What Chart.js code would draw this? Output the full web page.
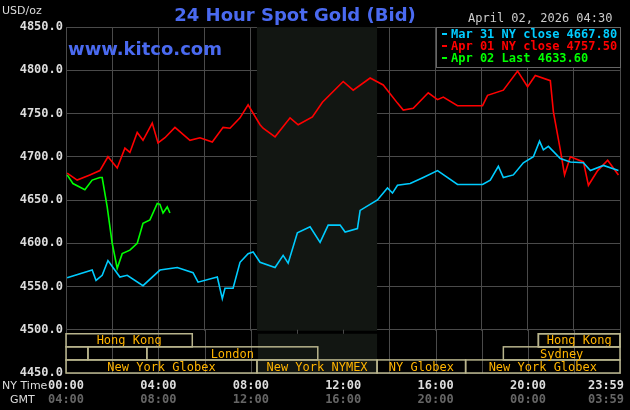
<!DOCTYPE html>
<html><head><meta charset="utf-8">
<script src="https://cdn.jsdelivr.net/npm/chart.js@4"></script>
<style>html,body{margin:0;background:#000;}#w{width:630px;height:410px;}</style>
</head><body><div id="w"><canvas id="c"></canvas></div>
<script>
const yTicks=[4450,4500,4550,4600,4650,4700,4750,4800,4850];
const nyLabels=["00:00","04:00","08:00","12:00","16:00","20:00","23:59"];
const gmtLabels=["04:00","08:00","12:00","16:00","20:00","00:00","03:59"];
const labelMinutes=[0,240,480,720,960,1200,1439];
const legendLabels=["Mar 31 NY close 4667.80","Apr 01 NY close 4757.50","Apr 02 Last 4633.60"];
const redT=[3,29,62,88,109,133,153,166,185,200,224,239,257,283,322,348,380,408,426,452,473,504,512,543,582,603,640,666,720,746,790,824,861,876,902,941,965,980,1017,1082,1095,1136,1173,1199,1219,1258,1266,1284,1295,1310,1344,1357,1381,1407,1435];
const redV=[4681,4673,4679,4684,4700,4687,4710,4705,4728,4719,4739,4716,4722,4734,4719,4722,4717,4734,4733,4745,4760,4737,4733,4723,4745,4737,4746,4763,4787,4777,4791,4783,4762,4754,4756,4774,4766,4769,4759,4759,4771,4777,4799,4781,4794,4788,4752,4708,4679,4700,4694,4667,4684,4696,4679];
const blueT=[3,68,78,94,109,140,159,200,244,289,330,343,393,406,413,434,452,473,486,504,543,564,577,601,634,660,681,712,725,757,764,809,835,848,861,894,928,965,1017,1082,1102,1123,1136,1162,1188,1214,1230,1240,1253,1284,1310,1344,1362,1396,1435];
const blueV=[4560,4569,4557,4563,4580,4561,4563,4551,4569,4572,4566,4555,4561,4536,4548,4548,4578,4588,4590,4578,4572,4586,4577,4612,4619,4601,4621,4621,4613,4617,4638,4650,4664,4658,4667,4669,4676,4684,4668,4668,4673,4689,4676,4679,4693,4700,4718,4708,4712,4698,4694,4693,4684,4690,4684];
const greenT=[3,18,49,68,88,94,107,120,133,146,166,185,200,218,237,244,252,263,270];
const greenV=[4679,4669,4662,4673,4676,4676,4642,4600,4571,4588,4592,4600,4623,4627,4646,4645,4635,4642,4635];
const sessRow=[0,0,1,1,1,2,2,2,2,0,1];
const sessStart=[0,1227,0,57,210,0,496,808,1038,1227,1136];
const sessEnd=[328,1439,57,210,654,496,808,1038,1439,1439,1439];
const sessName=["Hong Kong","","","","London","New York Globex","New York NYMEX","NY Globex","New York Globex","Hong Kong","Sydney"];
const pts=(t,v)=>t.map((x,i)=>({x:x,y:v[i]}));
const mono='"DejaVu Sans Mono", "Liberation Mono", monospace';
const deco={id:'deco',
beforeDatasetsDraw(ch){const c=ch.ctx,x=ch.scales.x,a=ch.chartArea;c.save();c.fillStyle='#121612';
 c.fillRect(x.getPixelForValue(496),a.top,x.getPixelForValue(808)-x.getPixelForValue(496),a.bottom-a.top);c.restore();},
beforeDraw(ch){const c=ch.ctx;c.save();c.fillStyle='#000';c.fillRect(0,0,ch.width,ch.height);c.restore();},
afterDraw(ch){const c=ch.ctx,x=ch.scales.x,y=ch.scales.y,a=ch.chartArea;c.save();
 const top=y.getPixelForValue(4500)+4,rh=(y.getPixelForValue(4450)-top)/3;
 c.fillStyle='#000';c.fillRect(a.left,y.getPixelForValue(4500)+1,a.right-a.left,a.bottom-y.getPixelForValue(4500)-1);
 c.strokeStyle='#4a4a4a';c.lineWidth=1;
 for(let m=0;m<=1440;m+=120){const px=Math.round(x.getPixelForValue(Math.min(m,1439)))+0.5;c.beginPath();c.moveTo(px,y.getPixelForValue(4500));c.lineTo(px,a.bottom);c.stroke();}
 c.fillStyle='#121612';c.fillRect(x.getPixelForValue(496)+1,top,x.getPixelForValue(808)-x.getPixelForValue(496)-1,a.bottom-top);
 c.strokeStyle='#b8b48c';c.lineWidth=1.5;c.font='12px '+mono;c.textAlign='center';c.textBaseline='middle';
 sessRow.forEach((r,i)=>{const x0=x.getPixelForValue(sessStart[i]),x1=x.getPixelForValue(sessEnd[i]);const y0=top+r*rh;
  c.strokeRect(x0,y0,x1-x0,rh);if(sessName[i]){c.fillStyle='#ffb400';c.fillText(sessName[i],(x0+x1)/2,y0+rh/2+1);}});
 c.textBaseline='alphabetic';c.font='11px "DejaVu Sans", sans-serif';c.fillStyle='#ddd';c.textAlign='left';c.fillText('NY Time',2,389);c.fillText('GMT',10,403);
 c.font='bold 12px '+mono;
 labelMinutes.forEach((m,i)=>{let px=x.getPixelForValue(m);c.textAlign='center';if(i==6)px-=14;
  c.fillStyle='#ddd';c.fillText(nyLabels[i],px,389);c.fillStyle='#666';c.fillText(gmtLabels[i],px,403);});
 c.fillStyle='#4a6af0';c.font='bold 18px "DejaVu Sans", sans-serif';c.textAlign='center';c.fillText('24 Hour Spot Gold (Bid)',295,21);
 c.textAlign='left';c.fillText('www.kitco.com',68,55);
 c.fillStyle='#ddd';c.font='11px "DejaVu Sans", sans-serif';c.fillText('USD/oz',2,14);
 c.font='12px '+mono;c.fillStyle='#ccc';c.fillText('April 02, 2026 04:30',468,22);
 c.fillStyle='#000';c.fillRect(436,27,184,40);c.strokeStyle='#666';c.lineWidth=1;c.strokeRect(436.5,27.5,184,40);
 const cols=['#00ccff','#ff0000','#00ff00'];c.font='bold 12px '+mono;
 legendLabels.forEach((l,i)=>{c.fillStyle=cols[i];c.fillRect(442,33+i*12,5,2);c.fillText(l,451,38+i*12);});
 c.restore();}};
new Chart(document.getElementById('c'),{type:'line',
data:{datasets:[
 {data:pts(blueT,blueV),borderColor:'#00ccff'},
 {data:pts(redT,redV),borderColor:'#ff0000'},
 {data:pts(greenT,greenV),borderColor:'#00ff00'}]},
options:{responsive:true,maintainAspectRatio:false,animation:false,
 elements:{point:{radius:0},line:{borderWidth:1.6,tension:0}},
 layout:{padding:{left:0,right:10,top:27,bottom:37}},
 plugins:{legend:{display:false},tooltip:{enabled:false}},
 scales:{
  x:{type:'linear',min:0,max:1439,ticks:{display:false,stepSize:120},grid:{color:'#4a4a4a',drawTicks:false},border:{color:'#4a4a4a'}},
  y:{min:4450,max:4850,afterFit:s=>{s.width=66;},afterBuildTicks:s=>{s.ticks=yTicks.map(v=>({value:v}));},
   ticks:{color:'#ddd',font:{family:'DejaVu Sans Mono',weight:'bold',size:12},padding:3,callback:v=>v.toFixed(1)},
   grid:{color:'#4a4a4a',drawTicks:false},border:{color:'#4a4a4a'}}}},
plugins:[deco]});
</script></body></html>
